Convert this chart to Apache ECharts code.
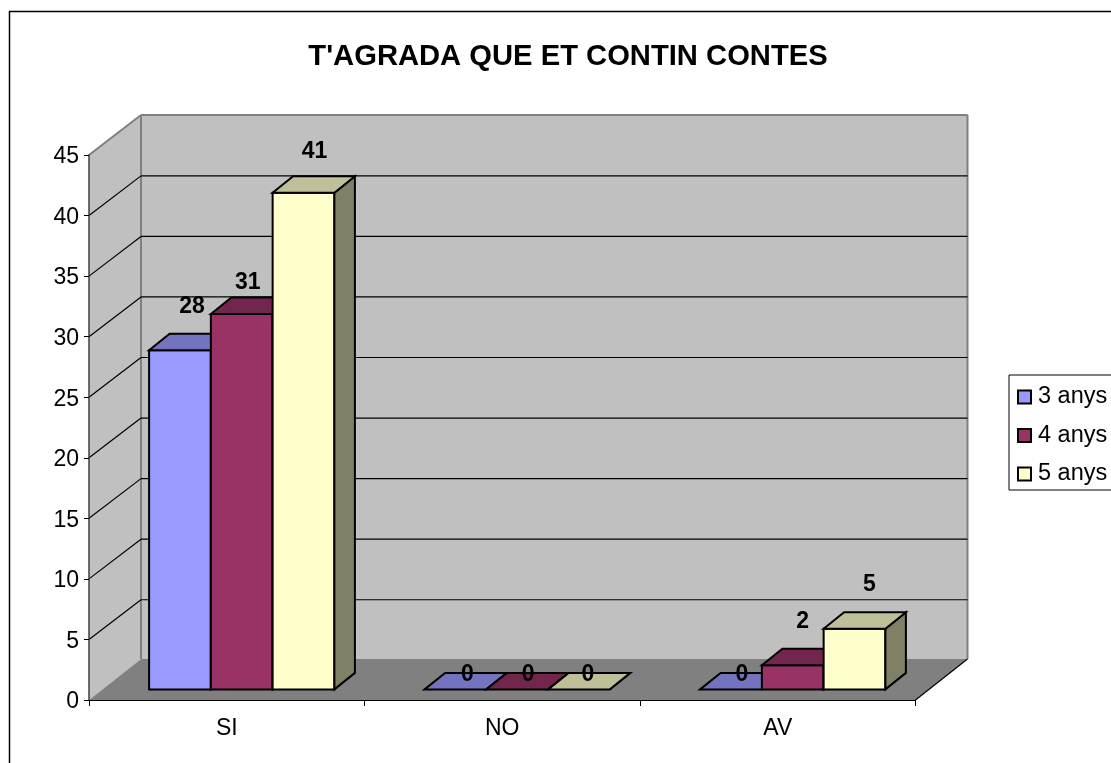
<!DOCTYPE html>
<html><head><meta charset="utf-8">
<style>html,body{margin:0;padding:0;background:#fff}#c{width:1111px;height:763px}</style>
<script src="https://cdn.jsdelivr.net/npm/echarts@6/dist/echarts.min.js"></script>
</head><body><div id="c"></div>
<script>
const titleText = "T'AGRADA QUE ET CONTIN CONTES";
const categories = ['SI', 'NO', 'AV'];
const seriesNames = ['3 anys', '4 anys', '5 anys'];
const anys3 = [28, 0, 0];
const anys4 = [31, 0, 2];
const anys5 = [41, 0, 5];
const yTicks = [0, 5, 10, 15, 20, 25, 30, 35, 40, 45];

const seriesValues = [anys3, anys4, anys5];
const frontColors = ['#9999FF', '#993366', '#FFFFCC'];
const topColors = ['#7373BF', '#73264D', '#BFBF99'];
const sideColors = ['#4D4D80', '#4D1933', '#808066'];
// hand-placed data label offsets (px) from the bar's front top centre, [series][category]
const labelNudges = [
  [[12, -44], [12, -15], [11, -15]],
  [[6, -31], [11, -15], [10, -44]],
  [[11, -41], [9, -15], [15, -44]]
];
const WALL_DX = 52, WALL_DY = -40, FLOOR_DY = -41, GRID_DY = -39.7; // depth of the 3D box
const BAR_DX = 20.5, BAR_DY = -16.5; // depth of a bar
const FRONT_DX = 15, FRONT_DY = -10.6; // front plane of the bars relative to the axis plane
const BAR_FRAC = 0.2242;

function poly(points, fill, stroke, lw) {
  return { type: 'polygon', shape: { points }, style: { fill, stroke: stroke || 'none', lineWidth: lw || 0 } };
}
function seg(a, b, stroke, lw) {
  return { type: 'line', shape: { x1: a[0], y1: a[1], x2: b[0], y2: b[1] }, style: { stroke, lineWidth: lw } };
}
function barGeom(api, s) {
  const band = api.size([1, 0])[0];
  const base = api.coord([api.value(0), 0]);
  const top = api.coord([api.value(0), api.value(1)]);
  const w = band * BAR_FRAC;
  const x0 = base[0] + FRONT_DX - 1.5 * w + s * w;
  return { x0, x1: x0 + w, yb: base[1] + FRONT_DY, yt: top[1] + FRONT_DY, w };
}
function barSeries(s) {
  return {
    type: 'custom', name: seriesNames[s], coordinateSystem: 'cartesian2d', z: 4 + s,
    itemStyle: { color: frontColors[s], borderColor: '#000', borderWidth: 1 },
    data: seriesValues[s].map((v, i) => [i, v]),
    renderItem(params, api) {
      const g = barGeom(api, s);
      const lw = 2, children = [];
      const d = [BAR_DX, BAR_DY];
      if (g.yb - g.yt > 0.5) {
        children.push(poly([[g.x0, g.yt], [g.x1, g.yt], [g.x1, g.yb], [g.x0, g.yb]], frontColors[s], '#000', lw));
        children.push(poly([[g.x1, g.yt], [g.x1 + d[0], g.yt + d[1]], [g.x1 + d[0], g.yb + d[1]], [g.x1, g.yb]], sideColors[s], '#000', lw));
      }
      children.push(poly([[g.x0, g.yt], [g.x0 + d[0], g.yt + d[1]], [g.x1 + d[0], g.yt + d[1]], [g.x1, g.yt]], topColors[s], '#000', lw));
      return { type: 'group', children };
    }
  };
}
const option = {
  animation: false,
  backgroundColor: '#fff',
  title: {
    text: titleText, left: 563, top: 37, textAlign: 'center',
    textStyle: { fontFamily: 'Liberation Sans', fontWeight: 'bold', fontSize: 29.2, color: '#000' }
  },
  graphic: [{
    type: 'rect', silent: true, z: -1,
    shape: { x: 9.5, y: 11.5, width: 1200, height: 900 },
    style: { fill: 'none', stroke: '#000', lineWidth: 1.5 }
  }],
  legend: {
    data: seriesNames, orient: 'vertical', left: 1009, top: 375, icon: 'rect',
    itemWidth: 13, itemHeight: 13, itemGap: 14.5,
    padding: [10, 10, 4, 8],
    borderColor: '#000', borderWidth: 1, backgroundColor: '#fff',
    textStyle: { fontFamily: 'Liberation Sans', fontSize: 23.5, color: '#000', padding: [0, 0, 0, 2] }
  },
  grid: { left: 89, top: 155, width: 826.5, height: 545 },
  xAxis: {
    type: 'category', data: categories, z: 3,
    axisLine: { lineStyle: { color: '#000', width: 1.2 } },
    axisTick: { show: true, length: 6, alignWithLabel: false, lineStyle: { color: '#000' } },
    axisLabel: { fontFamily: 'Liberation Sans', fontSize: 23, color: '#000', margin: 17 }
  },
  yAxis: {
    type: 'value', min: 0, max: 45, interval: 5, z: 3,
    axisLine: { show: true, lineStyle: { color: '#404040', width: 1.5 } },
    axisTick: { show: true, length: 5, lineStyle: { color: '#000' } },
    axisLabel: { fontFamily: 'Liberation Sans', fontSize: 23, color: '#000', margin: 10, verticalAlign: 'top', lineHeight: 4 },
    splitLine: { show: false }
  },
  series: [
    {
      type: 'custom', name: 'walls', coordinateSystem: 'cartesian2d', z: 1,
      data: yTicks.map(t => [0, t]),
      renderItem(params, api) {
        const cs = params.coordSys, v = api.value(1);
        const y = api.coord([0, v])[1];
        const xl = cs.x, xr = cs.x + cs.width, children = [];
        const yBase = cs.y + cs.height, yTop = cs.y;
        if (params.dataIndex === 0) {
          children.push(poly([[xl + WALL_DX, yTop + WALL_DY], [xr + WALL_DX, yTop + WALL_DY], [xr + WALL_DX, yBase + FLOOR_DY], [xl + WALL_DX, yBase + FLOOR_DY]], '#C0C0C0'));
          children.push(poly([[xl, yTop], [xl + WALL_DX, yTop + WALL_DY], [xl + WALL_DX, yBase + FLOOR_DY], [xl, yBase]], '#C0C0C0'));
          children.push(poly([[xl, yBase], [xr, yBase], [xr + WALL_DX, yBase + FLOOR_DY], [xl + WALL_DX, yBase + FLOOR_DY]], '#808080'));
          children.push(seg([xl, yTop], [xl + WALL_DX, yTop + WALL_DY], '#808080', 2));
          children.push(seg([xl + WALL_DX, yTop + WALL_DY], [xr + WALL_DX, yTop + WALL_DY], '#808080', 2));
          children.push(seg([xl + WALL_DX, yTop + WALL_DY], [xl + WALL_DX, yBase + FLOOR_DY], '#808080', 2));
          children.push(seg([xr + WALL_DX, yTop + WALL_DY], [xr + WALL_DX, yBase + FLOOR_DY], '#808080', 2));
          children.push(seg([xr, yBase], [xr + WALL_DX, yBase + FLOOR_DY], '#000', 1.2));
        } else if (v < 45) {
          children.push(seg([xl, y], [xl + WALL_DX, y + GRID_DY], '#000', 1.2));
          children.push(seg([xl + WALL_DX, y + GRID_DY], [xr + WALL_DX, y + GRID_DY], '#000', 1.2));
        }
        return { type: 'group', children };
      }
    },
    barSeries(0), barSeries(1), barSeries(2),
    ...[0, 1, 2].map(s => ({
      type: 'custom', name: 'labels' + s, coordinateSystem: 'cartesian2d', z: 8,
      data: seriesValues[s].map((v, i) => [i, v]),
      renderItem(params, api) {
        const g = barGeom(api, s);
        const n = labelNudges[s][api.value(0)];
        return {
          type: 'text',
          style: {
            x: (g.x0 + g.x1) / 2 + n[0], y: g.yt + n[1], text: String(api.value(1)),
            fill: '#000', font: 'bold 23px "Liberation Sans"', align: 'center', verticalAlign: 'middle'
          }
        };
      }
    }))
  ]
};
const chart = echarts.init(document.getElementById('c'));
chart.setOption(option);
</script></body></html>
